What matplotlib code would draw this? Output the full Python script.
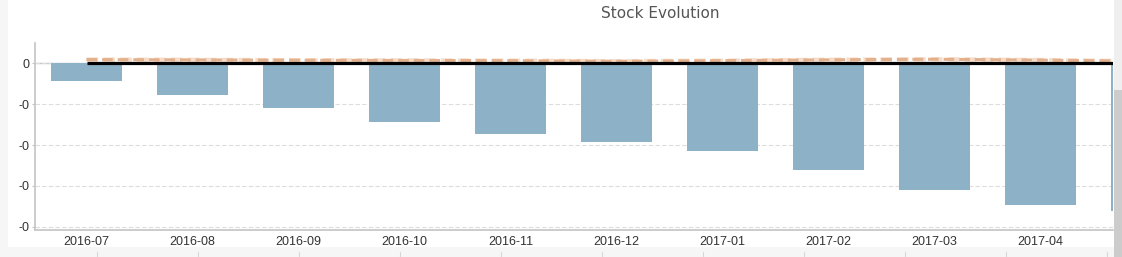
import matplotlib
matplotlib.use("Agg")
import matplotlib.pyplot as plt
from matplotlib.patches import Rectangle
from matplotlib.ticker import FuncFormatter

categories = ["2016-07", "2016-08", "2016-09", "2016-10", "2016-11", "2016-12",
              "2017-01", "2017-02", "2017-03", "2017-04", "2017-05"]
stock = [-0.044, -0.078, -0.11, -0.144, -0.173, -0.193, -0.215, -0.261, -0.31, -0.347, -0.361]
reference = [0.0085, 0.0078, 0.0069, 0.0064, 0.0059, 0.0044, 0.0059, 0.008, 0.0093, 0.0073, 0.0042]
baseline = [0.0] * len(categories)
yticks = [0, -0.1, -0.2, -0.3, -0.4]

W, H = 1122, 257
fig = plt.figure(figsize=(W / 100, H / 100), dpi=100, facecolor="#f6f6f6")

# background in pixel coordinates
bg = fig.add_axes([0, 0, 1, 1], zorder=-10)
bg.set_xlim(0, W)
bg.set_ylim(H, 0)
bg.axis("off")
bg.add_patch(Rectangle((8, 0), 1106, 247, facecolor="white", edgecolor="none"))
bg.add_patch(Rectangle((1114, 0), 8, 257, facecolor="#efefef", edgecolor="none"))
bg.add_patch(Rectangle((1114, 90), 8, 167, facecolor="#cccccc", edgecolor="none"))
for xt in [97, 198, 299, 400, 501, 602, 703, 804, 905, 1006, 1107]:
    bg.plot([xt, xt], [252, 257], color="#d8d8d8", lw=0.8)

left, right, top, bottom = 35, 1113, 43, 230
ax = fig.add_axes([left / W, 1 - bottom / H, (right - left) / W, (bottom - top) / H])
ax.set_facecolor("none")

x = list(range(len(categories)))
ax.bar(x, stock, width=0.67, color="#8db2c8", zorder=2)
ax.axhline(0, color="#c8c8c8", lw=1, zorder=1)
ax.plot(x, baseline, color="black", lw=2.3, zorder=4, solid_capstyle="butt")
ax.plot(x, reference, color="#f6dcc8", lw=3.2, zorder=3, dashes=(2.6, 1.2))
ax.plot(x, reference, color="#e2b08c", lw=2.2, zorder=3.5, dashes=(3.5, 1.6))

ax.set_xlim(-0.486, 9.684)
ax.set_ylim(-0.4075, 0.049)
ax.set_yticks(yticks)
ax.yaxis.set_major_formatter(FuncFormatter(lambda v, p: "%.0f" % v if v != 0 else "0"))
ax.set_xticks(x[:10])
ax.set_xticklabels(categories[:10])
ax.grid(axis="y", color="#dddddd", lw=0.8, ls=(0, (4, 2)), zorder=0)
for s in ["top", "right"]:
    ax.spines[s].set_visible(False)
for s in ["left", "bottom"]:
    ax.spines[s].set_color("#c4c4c4")
    ax.spines[s].set_linewidth(1.2)
ax.tick_params(axis="y", length=2, color="#c4c4c4", pad=2, labelsize=9, labelcolor="#333333")
ax.tick_params(axis="x", length=0, pad=4, labelsize=9, labelcolor="#333333")
for lab in ax.get_xticklabels() + ax.get_yticklabels():
    lab.set_fontfamily("Liberation Sans")

fig.text(660 / W, 1 - 13 / H, "Stock Evolution", ha="center", va="center",
         fontsize=11, color="#555555", family="DejaVu Sans")

fig.savefig("out.png", dpi=100, facecolor=fig.get_facecolor())
